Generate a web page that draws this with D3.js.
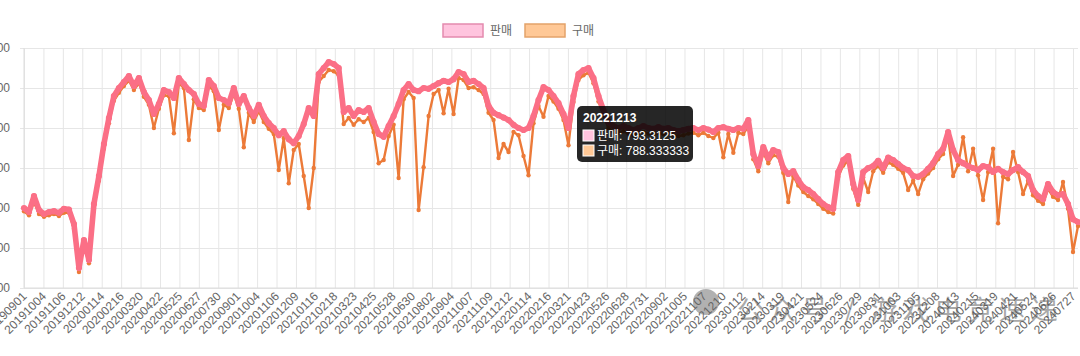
<!DOCTYPE html>
<html>
<head>
<meta charset="utf-8">
<script src="https://cdn.jsdelivr.net/npm/d3@7"></script>
<style>
	body { margin: 0; background: #fff; }
	svg { display: block; font-family: "Liberation Sans", Arial, "Noto Sans CJK KR", sans-serif; }
	.kr { font-family: "Liberation Sans", "Noto Sans CJK KR", sans-serif; }
</style>
</head>
<body>
<svg id="chart"></svg>
<script>
const seriesNames = ['판매', '구매']

const tickLabels = [
	'20190901', '20191004', '20191106', '20191212',
	'20200114', '20200216', '20200320', '20200422', '20200525', '20200627', '20200730', '20200901', '20201004', '20201106', '20201209',
	'20210116', '20210218', '20210323', '20210425', '20210528', '20210630', '20210802', '20210904', '20211007', '20211109', '20211212',
	'20220114', '20220216', '20220321', '20220423', '20220526', '20220628', '20220731', '20220902', '20221005', '20221107', '20221210',
	'20230112', '20230214', '20230319', '20230421', '20230524', '20230626', '20230729', '20230831', '20231003', '20231105', '20231208',
	'20240113', '20240215', '20240319', '20240421', '20240524', '20240626', '20240727'
]

const yTicks = [400, 500, 600, 700, 800, 900, 1000]

// 판매 (sell), evenly spaced samples
const sell = [
	600, 590, 630, 595, 585, 590, 592, 588, 598, 596,
	560, 450, 520, 470, 610, 680, 760, 825, 880, 900,
	915, 930, 905, 925, 890, 870, 835, 860, 895, 890,
	875, 925, 910, 895, 885, 860, 855, 920, 905, 875,
	870, 862, 900, 860, 880, 850, 830, 858, 830, 812,
	800, 782, 792, 772, 762, 780, 810, 850, 830, 935,
	950, 965, 960, 950, 840, 850, 830, 845, 840, 850,
	815, 785, 778, 805, 830, 860, 895, 910, 895, 892,
	900, 898, 905, 912, 918, 915, 922, 940, 935, 915,
	918, 910, 900, 855, 838, 832, 826, 820, 808, 800,
	795, 800, 830, 870, 902, 895, 880, 862, 835, 800,
	880, 935, 945, 950, 925, 880, 845, 815, 805, 800,
	805, 800, 795, 800, 805, 800, 798, 802, 798, 800,
	795, 792, 795, 798, 800, 795, 800, 796, 790, 800,
	802, 798, 795, 800, 798, 820, 735, 705, 752, 725,
	745, 740, 700, 685, 692, 670, 652, 645, 635, 622,
	610, 602, 598, 690, 720, 730, 660, 620, 690, 700,
	705, 718, 700, 726, 720, 710, 700, 695, 680, 678,
	685, 698, 712, 735, 748, 790, 745, 720, 712, 705,
	700, 695, 705, 702, 690, 698, 690, 685, 695, 702,
	690, 680, 645, 630, 622, 660, 640, 632, 635, 610,
	572, 565
]

// 구매 (buy)
const buy = [
	592, 582, 615, 585, 578, 582, 585, 580, 588, 588,
	548, 440, 508, 462, 598, 668, 748, 812, 868, 888,
	905, 918, 895, 912, 878, 858, 800, 848, 882, 880,
	787, 912, 900, 770, 872, 850, 845, 905, 892, 795,
	858, 850, 885, 848, 752, 838, 815, 842, 815, 798,
	785, 695, 775, 662, 745, 760, 680, 600, 700, 915,
	930, 945, 942, 932, 810, 825, 808, 822, 815, 825,
	790, 712, 720, 780, 808, 675, 872, 890, 875, 595,
	702, 830, 885, 895, 837, 898, 835, 925, 920, 900,
	902, 895, 885, 838, 820, 725, 760, 740, 790, 782,
	730, 682, 812, 855, 828, 880, 866, 848, 820, 757,
	865, 920, 932, 938, 912, 866, 832, 800, 790, 788,
	792, 786, 782, 788, 790, 786, 785, 788, 785, 788,
	782, 780, 782, 786, 788, 782, 788, 780, 775, 788,
	727, 785, 738, 788, 785, 805, 722, 692, 738, 712,
	732, 728, 688, 615, 680, 656, 640, 630, 622, 610,
	598, 590, 586, 678, 706, 718, 648, 608, 676, 640,
	692, 705, 688, 714, 708, 698, 688, 645, 668, 635,
	672, 686, 700, 722, 735, 778, 680, 708, 777, 692,
	748, 682, 620, 690, 748, 562, 678, 672, 740, 690,
	635, 668, 632, 618, 610, 648, 628, 620, 665, 598,
	490, 555
]

const tipDate = '20221213'
const tipValues = [793.3125, 788.333333]

const colors = ['#fb6f86', '#ec7a38']
const strokeWidths = [5.6, 2.4]
const pointRadius = [3.1, 2.2]
const legendFill = ['#ffc4de', '#ffc896']
const legendStroke = ['#e48aae', '#e4a36a']

const width = 1080
const height = 356
const margin = { left: 24, right: 2, top: 48, bottom: 68 }

const $svg = d3.select('#chart')
	.attr('width', width)
	.attr('height', height)

const scaleX = d3.scaleLinear()
	.domain([0, sell.length - 1])
	.range([margin.left, width - margin.right])

const scaleTick = d3.scalePoint()
	.domain(tickLabels)
	.range([margin.left, 1073])

const scaleY = d3.scaleLinear()
	.domain([400, 1000])
	.range([height - margin.bottom, margin.top])

const $gAxes = $svg.append('g').attr('class', 'g-axes')

// horizontal grid + y labels (the page cuts them at the left edge, as in the source)
const yAxis = d3.axisLeft(scaleY)
	.tickValues(yTicks)
	.tickSize(-(width - margin.right - margin.left) - 4)
	.tickPadding(10)

$gAxes.append('g')
	.attr('transform', `translate(${margin.left - 4},0)`)
	.call(yAxis)
	.call(g => g.select('.domain').remove())
	.call(g => g.selectAll('line').attr('stroke', '#e6e6e6'))
	.call(g => g.selectAll('text').attr('fill', '#666').attr('font-size', 12))

// vertical grid + x labels
const xAxis = d3.axisBottom(scaleTick)
	.tickSize(-(height - margin.bottom - margin.top))
	.tickPadding(0)

$gAxes.append('g')
	.attr('transform', `translate(0,${height - margin.bottom})`)
	.call(xAxis)
	.call(g => g.select('.domain').remove())
	.call(g => g.selectAll('line').attr('stroke', '#e6e6e6'))
	.call(g => g.selectAll('text')
		.attr('fill', '#666')
		.attr('font-size', 12)
		.attr('text-anchor', 'end')
		.attr('dy', 0)
		.attr('transform', 'translate(3,9) rotate(-45)'))

// axis lines
$gAxes.append('line')
	.attr('x1', margin.left).attr('x2', margin.left)
	.attr('y1', margin.top).attr('y2', height - margin.bottom)
	.attr('stroke', '#dcdcdc')
$gAxes.append('line')
	.attr('x1', margin.left).attr('x2', width - margin.right)
	.attr('y1', height - margin.bottom).attr('y2', height - margin.bottom)
	.attr('stroke', '#dcdcdc')

// series, drawn buy first so sell sits on top
const $gViz = $svg.append('g').attr('class', 'g-viz')
const line = d3.line()
	.x((d, i) => scaleX(i))
	.y(d => scaleY(d))

const datasets = [sell, buy]
;[1, 0].forEach(k => {
	const $g = $gViz.append('g')
	$g.append('path')
		.datum(datasets[k])
		.attr('d', line)
		.attr('fill', 'none')
		.attr('stroke', colors[k])
		.attr('stroke-width', strokeWidths[k])
		.attr('stroke-linejoin', 'round')
	$g.selectAll('circle')
		.data(datasets[k])
		.join('circle')
		.attr('cx', (d, i) => scaleX(i))
		.attr('cy', d => scaleY(d))
		.attr('r', pointRadius[k])
		.attr('fill', colors[k])
})

// legend
const $legend = $svg.append('g').attr('class', 'kr')
const legendX = [443, 525]
seriesNames.forEach((name, k) => {
	$legend.append('rect')
		.attr('x', legendX[k]).attr('y', 24)
		.attr('width', 40).attr('height', 13)
		.attr('fill', legendFill[k])
		.attr('stroke', legendStroke[k])
		.attr('stroke-width', 1.5)
	$legend.append('text')
		.attr('x', legendX[k] + 47).attr('y', 35)
		.attr('font-size', 12)
		.attr('fill', '#666')
		.text(name)
})

// watermark
const $wm = $svg.append('g').attr('opacity', 0.5)
$wm.append('circle').attr('cx', 706).attr('cy', 302).attr('r', 13).attr('fill', '#666')
$wm.append('text')
	.attr('x', 737).attr('y', 320)
	.attr('font-size', 27)
	.attr('fill', '#555')
	.attr('font-family', '"Noto Sans CJK SC", sans-serif')
	.attr('letter-spacing', 5)
	.text('公众号 / 游戏电竞速递')

// tooltip
const $tip = $svg.append('g').attr('class', 'kr').attr('transform', 'translate(577,106)')
$tip.append('rect')
	.attr('width', 116).attr('height', 56)
	.attr('rx', 5)
	.attr('fill', 'rgba(0,0,0,0.85)')
$tip.append('text')
	.attr('x', 6).attr('y', 16)
	.attr('font-size', 12).attr('font-weight', 'bold')
	.attr('fill', '#fff')
	.text(tipDate)
seriesNames.forEach((name, k) => {
	const y = 24 + k * 15
	$tip.append('rect')
		.attr('x', 6).attr('y', y)
		.attr('width', 11).attr('height', 11)
		.attr('fill', legendFill[k])
		.attr('stroke', '#fff').attr('stroke-width', 1)
	$tip.append('text')
		.attr('x', 20).attr('y', y + 10)
		.attr('font-size', 12)
		.attr('fill', '#fff')
		.text(`${name}: ${tipValues[k]}`)
})
</script>
</body>
</html>
